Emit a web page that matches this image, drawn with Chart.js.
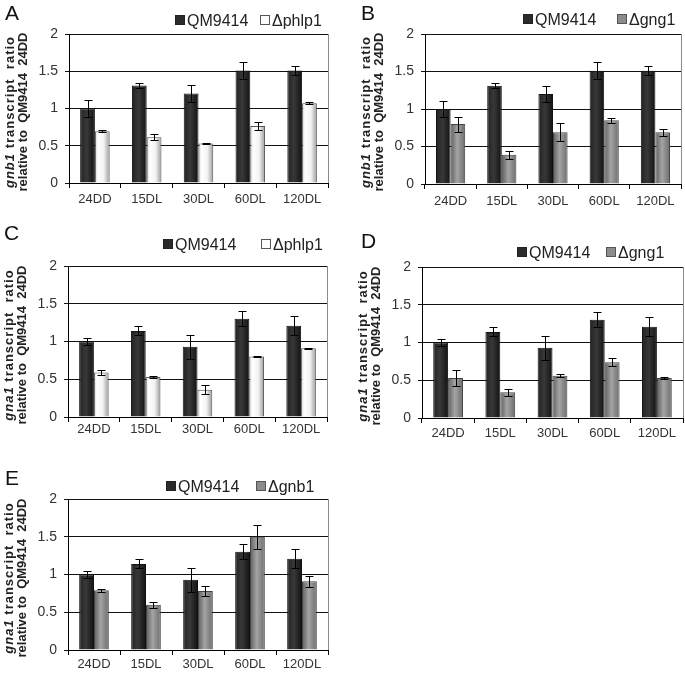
<!DOCTYPE html>
<html>
<head>
<meta charset="utf-8">
<script src="https://cdn.jsdelivr.net/npm/chart.js@4.4.0/dist/chart.umd.min.js"></script>
<style>
  body { margin: 0; background: #fff; font-family: "Liberation Sans", Arial, sans-serif; }
  #fig { position: relative; width: 685px; height: 675px; overflow: hidden; background: #fff; }
  canvas { position: absolute; }
  .letter { position: absolute; font-size: 21px; line-height: 21px; color: #111; }
  .ytitle { position: absolute; width: 180px; height: 26px; font-size: 13px; font-weight: bold; line-height: 13px;
            text-align: center; color: #222; transform: rotate(-90deg); white-space: pre; }
  .ytitle .l1 { letter-spacing: 1px; }
  .legend { position: absolute; font-size: 16px; line-height: 16px; color: #222; white-space: nowrap; }
  .legend .box { display: inline-block; width: 8px; height: 8px; border: 1px solid #333; margin-right: 2px; vertical-align: 1px; }
</style>
</head>
<body>
<div id="fig"></div>
<script>
// categories and values
const categories = ['24DD', '15DL', '30DL', '60DL', '120DL']
const yTicks = [0, 0.5, 1, 1.5, 2]
const yTickLabels = ['0', '0.5', '1', '1.5', '2']

const gnb1QM = [1.0, 1.31, 1.2, 1.51, 1.51]
const gnb1QMErr = [0.11, 0.035, 0.11, 0.11, 0.06]
const gnb1Phlp1 = [0.695, 0.615, 0.53, 0.765, 1.07]
const gnb1Phlp1Err = [0.01, 0.04, 0.01, 0.05, 0.015]
const gnb1Gng1 = [0.8, 0.39, 0.69, 0.85, 0.69]
const gnb1Gng1Err = [0.1, 0.055, 0.12, 0.035, 0.05]

const gna1QM = [1.0, 1.14, 0.93, 1.3, 1.21]
const gna1QMErr = [0.05, 0.06, 0.16, 0.1, 0.13]
const gna1Phlp1 = [0.59, 0.53, 0.36, 0.8, 0.91]
const gna1Phlp1Err = [0.03, 0.01, 0.06, 0.01, 0.01]
const gna1Gng1 = [0.53, 0.34, 0.56, 0.74, 0.53]
const gna1Gng1Err = [0.1, 0.05, 0.02, 0.05, 0.01]
const gna1Gnb1 = [0.79, 0.6, 0.78, 1.5, 0.91]
const gna1Gnb1Err = [0.02, 0.04, 0.07, 0.16, 0.07]

const catPct = 0.57
const font = '"Liberation Sans", Arial, sans-serif'

const solid = { dark: '#2b2b2b', white: '#f2f2f2', gray: '#8c8c8c' }
const stops = {
    dark: [[0, '#222'], [0.45, '#383838'], [1, '#121212']],
    white: [[0, '#cfcfcf'], [0.2, '#ffffff'], [0.6, '#f3f3f3'], [1, '#9a9a9a']],
    gray: [[0, '#5e5e5e'], [0.45, '#a4a4a4'], [1, '#6c6c6c']]
}
const edge = { dark: '#111', white: '#555', gray: '#444' }

const panels = [
    { letter: 'A', x: 0, y: 0, w: 340, h: 225, area: { left: 69, right: 328, top: 34, bottom: 183 }, xPad: 4,
      gene: 'gnb1', mutant: '\u0394phlp1', style: 'white', qm: gnb1QM, qmErr: gnb1QMErr, mut: gnb1Phlp1, mutErr: gnb1Phlp1Err,
      letterPos: [5, 2], legendPos: [175, 260, 21] },
    { letter: 'B', x: 340, y: 0, w: 345, h: 225, area: { left: 85, right: 341, top: 34, bottom: 184 }, xPad: 5,
      gene: 'gnb1', mutant: '\u0394gng1', style: 'gray', qm: gnb1QM, qmErr: gnb1QMErr, mut: gnb1Gng1, mutErr: gnb1Gng1Err,
      letterPos: [361, 2], legendPos: [523, 617, 20] },
    { letter: 'C', x: 0, y: 220, w: 340, h: 225, area: { left: 68, right: 327, top: 46, bottom: 197 }, xPad: 0,
      gene: 'gna1', mutant: '\u0394phlp1', style: 'white', qm: gna1QM, qmErr: gna1QMErr, mut: gna1Phlp1, mutErr: gna1Phlp1Err,
      letterPos: [4, 222], legendPos: [163, 261, 245] },
    { letter: 'D', x: 340, y: 220, w: 345, h: 225, area: { left: 82, right: 343, top: 47, bottom: 198 }, xPad: 3,
      gene: 'gna1', mutant: '\u0394gng1', style: 'gray', qm: gna1QM, qmErr: gna1QMErr, mut: gna1Gng1, mutErr: gna1Gng1Err,
      letterPos: [361, 230], legendPos: [517, 606, 253] },
    { letter: 'E', x: 0, y: 440, w: 340, h: 235, area: { left: 68, right: 328, top: 59, bottom: 210 }, xPad: 2,
      gene: 'gna1', mutant: '\u0394gnb1', style: 'gray', qm: gna1QM, qmErr: gna1QMErr, mut: gna1Gnb1, mutErr: gna1Gnb1Err,
      letterPos: [5, 467], legendPos: [166, 256, 487] }
]

const errorBars = {
    id: 'errorBars',
    afterDatasetsDraw(chart) {
        const ctx = chart.ctx
        const y = chart.scales.y
        chart.data.datasets.forEach((ds, i) => {
            if (!ds.errors) return
            chart.getDatasetMeta(i).data.forEach((bar, j) => {
                let top = Math.round(y.getPixelForValue(ds.data[j] + ds.errors[j])) + 0.5
                let bottom = Math.round(y.getPixelForValue(ds.data[j] - ds.errors[j])) + 0.5
                let x = Math.round(bar.x) + 0.5
                ctx.save()
                ctx.strokeStyle = '#000'
                ctx.lineWidth = 1
                ctx.beginPath()
                ctx.moveTo(x, top); ctx.lineTo(x, bottom)
                ctx.moveTo(x - 4, top); ctx.lineTo(x + 4, top)
                ctx.moveTo(x - 4, bottom); ctx.lineTo(x + 4, bottom)
                ctx.stroke()
                ctx.restore()
            })
        })
    }
}

const rightBorder = {
    id: 'rightBorder',
    beforeDatasetsDraw(chart) {
        const { top, bottom, right } = chart.chartArea
        const ctx = chart.ctx
        ctx.save()
        ctx.strokeStyle = '#8a8a8a'
        ctx.lineWidth = 1
        ctx.beginPath()
        ctx.moveTo(Math.round(right) + 0.5, top)
        ctx.lineTo(Math.round(right) + 0.5, bottom)
        ctx.stroke()
        ctx.restore()
    }
}

function barFill(style, dsIndex) {
    return (c) => {
        const chart = c.chart
        const xs = chart.scales.x
        if (!xs || !chart.chartArea || c.dataIndex === undefined) return solid[style]
        let catW = (chart.chartArea.right - chart.chartArea.left) / categories.length
        let bw = catW * catPct / 2
        let center = xs.getPixelForValue(c.dataIndex)
        let x0 = dsIndex === 0 ? center - bw : center
        let g = chart.ctx.createLinearGradient(x0, 0, x0 + bw, 0)
        stops[style].forEach(([o, col]) => g.addColorStop(o, col))
        return g
    }
}

function addHtml(p) {
    const fig = document.getElementById('fig')

    let letter = document.createElement('div')
    letter.className = 'letter'
    letter.textContent = p.letter
    letter.style.left = p.letterPos[0] + 'px'
    letter.style.top = p.letterPos[1] + 'px'
    fig.appendChild(letter)

    let title = document.createElement('div')
    title.className = 'ytitle'
    title.innerHTML = '<span class="l1"><i>' + p.gene + '</i> transcript  ratio</span>\nrelative to  QM9414  24DD'
    let cx = p.x + p.area.left - 53
    let cy = p.y + (p.area.top + p.area.bottom) / 2 + 3
    title.style.left = (cx - 90) + 'px'
    title.style.top = (cy - 13) + 'px'
    fig.appendChild(title)

    const items = [['QM9414', solid.dark, '#222'], [p.mutant, p.style === 'white' ? '#fbfbfb' : '#8c8c8c', '#555']]
    items.forEach((it, k) => {
        let lg = document.createElement('div')
        lg.className = 'legend'
        lg.innerHTML = '<span class="box" style="background:' + it[1] + ';border-color:' + it[2] + '"></span>' + it[0]
        lg.style.left = p.legendPos[k] + 'px'
        lg.style.top = (p.legendPos[2] - 8) + 'px'
        fig.appendChild(lg)
    })
}

function buildPanel(p) {
    const fig = document.getElementById('fig')
    let canvas = document.createElement('canvas')
    canvas.width = p.w
    canvas.height = p.h
    canvas.style.left = p.x + 'px'
    canvas.style.top = p.y + 'px'
    fig.appendChild(canvas)

    new Chart(canvas, {
        type: 'bar',
        data: {
            labels: categories,
            datasets: [
                { label: 'QM9414', data: p.qm, errors: p.qmErr, backgroundColor: barFill('dark', 0),
                  borderColor: edge.dark, borderWidth: 1 },
                { label: p.mutant, data: p.mut, errors: p.mutErr, backgroundColor: barFill(p.style, 1),
                  borderColor: edge[p.style], borderWidth: 1 }
            ]
        },
        options: {
            responsive: false,
            animation: false,
            categoryPercentage: catPct,
            barPercentage: 1,
            layout: { padding: { left: 0, right: p.w - p.area.right, top: p.area.top, bottom: 0 } },
            plugins: { legend: { display: false }, tooltip: { enabled: false } },
            scales: {
                x: {
                    grid: { offset: true, drawOnChartArea: false, color: '#000', tickLength: 5 },
                    border: { color: '#000' },
                    ticks: { color: '#333', font: { family: font, size: 13 }, padding: p.xPad },
                    afterFit: (s) => { s.height = p.h - p.area.bottom }
                },
                y: {
                    min: 0,
                    max: 2,
                    afterBuildTicks: (s) => { s.ticks = yTicks.map(v => ({ value: v })) },
                    ticks: { color: '#333', font: { family: font, size: 14 }, padding: 7,
                             callback: (v, i) => yTickLabels[i] },
                    grid: { color: '#111', tickLength: 4 },
                    border: { color: '#000' },
                    afterFit: (s) => { s.width = p.area.left }
                }
            }
        },
        plugins: [rightBorder, errorBars]
    })
}

panels.forEach(p => {
    buildPanel(p)
    addHtml(p)
})
</script>
</body>
</html>
